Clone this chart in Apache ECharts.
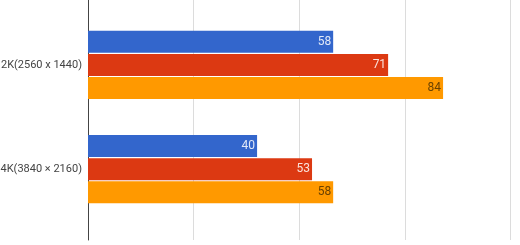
<!DOCTYPE html>
<html>
<head>
<meta charset="utf-8">
<script src="https://cdn.jsdelivr.net/npm/echarts@6/dist/echarts.min.js"></script>
<style>html,body{margin:0;padding:0;background:#fff}#c{width:520px;height:245px}</style>
</head>
<body>
<div id="c"></div>
<script>
const categories = ['2K(2560 x 1440)', '4K(3840 × 2160)'];
const seriesA = [58, 40];
const seriesB = [71, 53];
const seriesC = [84, 58];
const xTicks = [0, 25, 50, 75, 100];

const chart = echarts.init(document.getElementById('c'), null, {renderer: 'canvas'});
const font = 'Roboto, Arial, sans-serif';
function mk(name, data, color, lblColor) {
  return {
    name: name, type: 'bar', data: data, xAxisIndex: 0, yAxisIndex: 0,
    barWidth: 22, barGap: '5%',
    itemStyle: {color: color},
    label: {show: true, position: 'insideRight', distance: 2, color: lblColor, fontFamily: font, fontSize: 12}
  };
}
chart.setOption({
  animation: false,
  grid: [
    {left: 88, right: 9.3, top: 12.75, height: 208.6, containLabel: false, outerBoundsMode: 'none'},
    {left: 88, right: 9.3, top: 0, bottom: 5, containLabel: false, outerBoundsMode: 'none'}
  ],
  xAxis: [
    {gridIndex: 0, type: 'value', min: xTicks[0], max: xTicks[xTicks.length-1], interval: 25, show: false},
    {gridIndex: 1, type: 'value', min: xTicks[0], max: xTicks[xTicks.length-1], interval: 25,
     axisLine: {show: false}, axisTick: {show: false}, axisLabel: {show: false},
     splitLine: {show: true, lineStyle: {color: '#dcdcdc', width: 1}}}
  ],
  yAxis: [
    {gridIndex: 0, type: 'category', data: categories, inverse: true,
     axisLine: {show: false}, axisTick: {show: false},
     axisLabel: {color: '#444', fontFamily: font, fontSize: 11, margin: 6}},
    {gridIndex: 1, type: 'value', min: 0, max: 1,
     axisLine: {show: true, lineStyle: {color: '#444', width: 1}}, axisTick: {show: false},
     axisLabel: {show: false}, splitLine: {show: false}}
  ],
  series: [
    mk('A', seriesA, '#3366cc', 'rgba(255,255,255,0.85)'),
    mk('B', seriesB, '#dc3912', 'rgba(255,255,255,0.85)'),
    mk('C', seriesC, '#ff9900', '#6b4200')
  ]
});
</script>
</body>
</html>
